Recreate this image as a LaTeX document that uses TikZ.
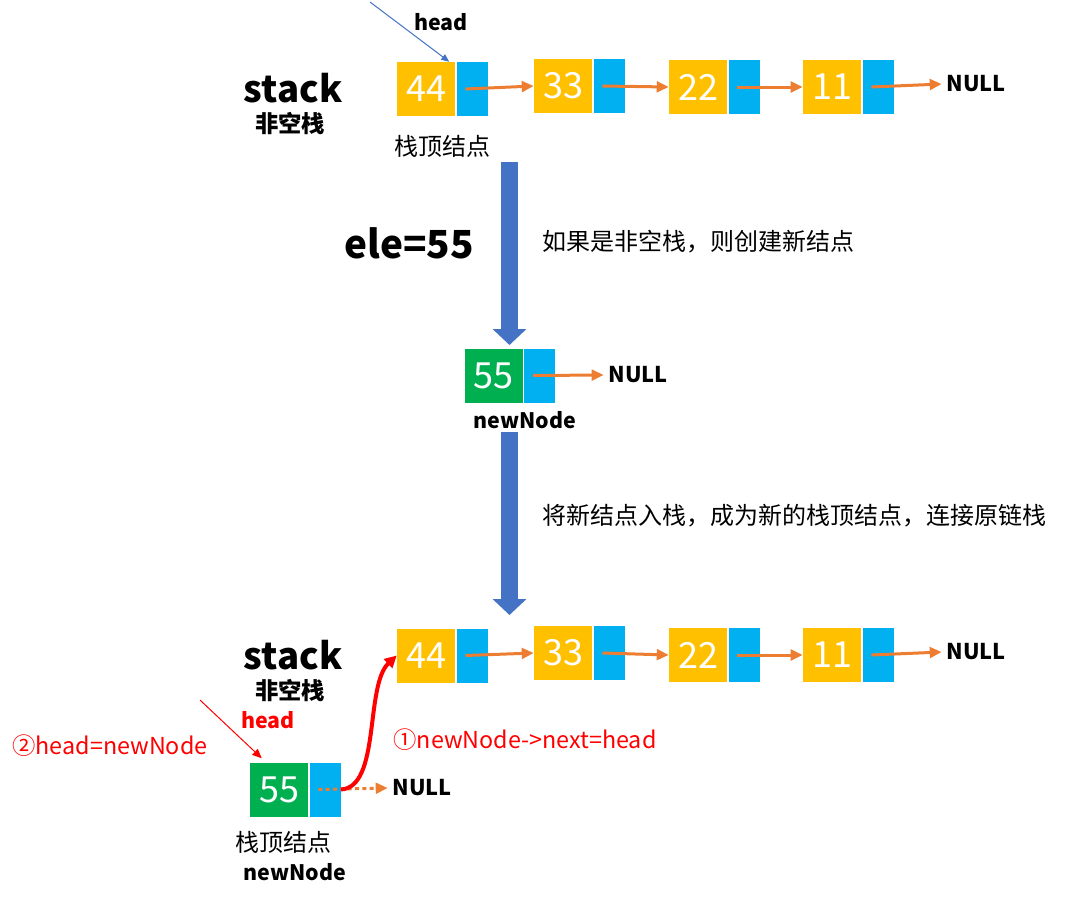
\documentclass[tikz,border=0pt]{standalone}
\usepackage{fontspec}
\setmainfont{Noto Sans CJK SC}
\usetikzlibrary{arrows.meta,positioning}
\definecolor{datyellow}{HTML}{FFC000}
\definecolor{ptrblue}{HTML}{00B0F0}
\definecolor{newgreen}{HTML}{00B050}
\definecolor{linkorange}{HTML}{ED7D31}
\definecolor{flowblue}{HTML}{4472C4}
\tikzset{
  datbox/.style={fill=#1, minimum width=43.5pt, minimum height=40.5pt, inner sep=0pt, text=white, font=\fontsize{27}{27}\selectfont},
  ptrbox/.style={fill=ptrblue, minimum width=23.25pt, minimum height=40.5pt, inner sep=0pt, right=0.75pt of #1},
  link/.style={linkorange, line width=2.25pt, -{Triangle[length=9pt,width=8pt]}},
  dotlink/.style={link, dash pattern=on 3pt off 2.5pt},
  flow/.style={flowblue, line width=12.75pt, -{Triangle[length=12pt,width=24.75pt]}},
  nulltxt/.style={font=\bfseries\fontsize{16.3}{20}\selectfont},
  txt/.style={font=\fontsize{18}{22}\selectfont},
  boldtxt/.style={font=\bfseries\fontsize{16}{22}\selectfont},
  boldcjk/.style={font=\bfseries\fontsize{17.5}{22}\selectfont},
  bigtxt/.style={font=\bfseries\fontsize{27.5}{32}\selectfont},
  redtxt/.style={text=red, font=\fontsize{17.5}{22}\selectfont},
}

\begin{document}
\begin{tikzpicture}[x=0.75pt, y=-0.75pt]
    \useasboundingbox (0,0) rectangle (1065,901);
    \coordinate (ths) at (370,2);
    \coordinate (f1s) at (509.5,162);
    \coordinate (f1e) at (509.5,345);
    \coordinate (f2s) at (509.5,432);
    \coordinate (f2e) at (509.5,615);
    \coordinate (bhs) at (200,700);

\foreach \v/\x/\y in {44/426/89,33/563/86,22/698/87,11/832/87}{
  \node[datbox=datyellow] (t\v) at (\x,\y) {\v};
  \node[ptrbox=t\v] (tp\v) {};
}
\foreach \v/\x/\y in {44/426/655.5,33/563/653,22/698/655,11/832/655}{
  \node[datbox=datyellow] (b\v) at (\x,\y) {\v};
  \node[ptrbox=b\v] (bp\v) {};
}
\node[datbox=newgreen] (m55) at (493.5,375.5) {55};
\node[ptrbox=m55] (mp55) {};
\node[datbox=newgreen] (n55) at (279,789.5) {55};
\node[ptrbox=n55] (np55) {};

\node[nulltxt] (tnull) at (976,84) {NULL};
\node[nulltxt] (mnull) at (638,375) {NULL};
\node[nulltxt] (bnull) at (976,652) {NULL};
\node[nulltxt] (nnull) at (422,788) {NULL};

\foreach \a/\b in {44/33,33/22,22/11}{
  \draw[link] ([xshift=-5pt]tp\a.center) -- (t\b.west);
  \draw[link] ([xshift=-5pt]bp\a.center) -- (b\b.west);
}
\draw[link] ([xshift=-5pt]tp11.center) -- (tnull.west);
\draw[link] ([xshift=-5pt]bp11.center) -- (bnull.west);
\draw[link] ([xshift=-5pt]mp55.center) -- (mnull.west);
\draw[dotlink] ([xshift=-5pt]np55.center) -- (nnull.west);

\node[boldtxt] (thead) at (441,22) {head};
\draw[flowblue, line width=0.75pt, -{Triangle[length=6pt,width=5pt]}] (ths) -- ([xshift=-4.5pt]t44.north east);
\node[bigtxt] (tstack) at (293,88) {stack};
\node[boldcjk] (tkind) at (290,124) {非空栈};
\node[txt] (ttop) at (442,146) {栈顶结点};

\draw[flow] (f1s) -- (f1e);
\node[bigtxt, font=\bfseries\fontsize{29}{34}\selectfont] (ele) at (409,243) {ele=55};
\node[txt] (step1) at (698,242) {如果是非空栈，则创建新结点};
\node[boldtxt] (mname) at (525,420) {newNode};

\draw[flow] (f2s) -- (f2e);
\node[txt] (step2) at (794,516) {将新结点入栈，成为新的栈顶结点，连接原链栈};

\node[bigtxt] (bstack) at (293,655) {stack};
\node[boldcjk] (bkind) at (290,691) {非空栈};
\node[boldtxt, text=red] (bhead) at (268,720) {head};
\node[redtxt] (assign2) at (110,746) {②head=newNode};
\draw[red, line width=0.75pt, -{Triangle[length=7pt,width=6pt]}] (bhs) -- ([xshift=9pt,yshift=3pt]n55.north west);
\node[redtxt] (assign1) at (525,740) {①newNode->next=head};
\draw[red, line width=3pt, -{Triangle[length=9pt,width=9pt]}] (np55.east) .. controls +(40,-2) and +(-32,30) .. (b44.west);
\node[txt] (ntop) at (283,842) {栈顶结点};
\node[boldtxt] (nname) at (295,872) {newNode};
  \end{tikzpicture}
\end{document}
